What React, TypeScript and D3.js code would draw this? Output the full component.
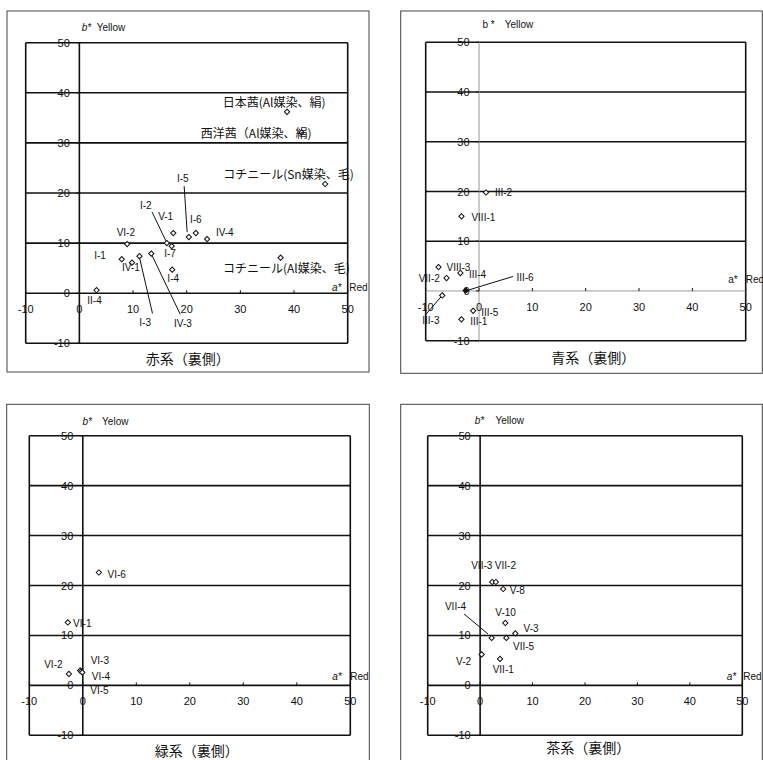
import * as d3 from "d3";

const tickValues = [-10, 0, 10, 20, 30, 40, 50];

// 赤系（裏側）
const redNames = ["I-1", "IV-1", "VI-2", "I-3", "IV-3", "I-2", "I-7", "V-1", "I-4", "I-5", "I-6", "IV-4", "II-4",
  "日本茜(Al媒染、絹)", "西洋茜（Al媒染、絹)", "コチニール(Sn媒染、毛)", "コチニール(Al媒染、毛)"];
const redA = [7.9, 9.8, 8.9, 11.2, 13.4, 16.3, 17.2, 17.5, 17.3, 20.4, 21.7, 23.8, 3.2, 38.7, 41.4, 45.8, 37.5];
const redB = [6.8, 6.1, 9.8, 7.4, 7.9, 10.0, 9.4, 12.0, 4.7, 11.2, 12.0, 10.8, 0.6, 36.2, 32.1, 21.8, 7.1];

// 青系（裏側）
const blueNames = ["III-2", "VIII-1", "VIII-3", "VII-2", "III-4", "III-6", "III-3", "III-5", "III-1"];
const blueA = [1.3, -3.3, -7.6, -6.1, -3.5, -2.5, -6.9, -1.1, -3.3];
const blueB = [19.8, 15.0, 4.8, 2.6, 3.6, 0.1, -0.9, -4.0, -5.7];

// 緑系（裏側）
const greenNames = ["VI-6", "VI-1", "VI-2", "VI-3", "VI-4", "VI-5"];
const greenA = [3.0, -2.8, -2.6, -0.5, -0.3, -0.1];
const greenB = [22.6, 12.6, 2.3, 3.0, 2.8, 2.6];

// 茶系（裏側）
const brownNames = ["VII-3", "VII-2", "V-8", "V-10", "V-3", "VII-4", "VII-5", "V-2", "VII-1"];
const brownA = [2.3, 3.0, 4.4, 4.8, 6.7, 2.2, 5.0, 0.3, 3.8];
const brownB = [20.7, 20.7, 19.3, 12.5, 10.4, 9.5, 9.5, 6.2, 5.3];

// label placement: [anchor, dx, dy, leader?]
type Place = [string, number, number, number[]?];

const redPlace: Record<string, Place> = {
  "I-1": ["middle", -21.7, -3.3],
  "IV-1": ["middle", -1, 5],
  "VI-2": ["middle", -1.3, -11.4],
  "I-3": ["middle", 5.7, 66, [0, 1.3, 13, 57.3]],
  "IV-3": ["middle", 31.7, 69.7, [0.7, 1.7, 29, 60.7]],
  "I-2": ["middle", -21, -38, [-14.7, -31, -1, -2.3]],
  "I-7": ["middle", -1.7, 7.3],
  "V-1": ["middle", -7.6, -16.3],
  "I-4": ["middle", 1, 8.6],
  "I-5": ["middle", -6, -59, [-4.7, -51, -1.7, -5]],
  "I-6": ["middle", 0, -14],
  "IV-4": ["middle", 17.7, -6.7],
  "II-4": ["middle", -2, 10],
  "日本茜(Al媒染、絹)": ["start", -64.3, -10],
  "西洋茜（Al媒染、絹)": ["start", -100.7, 0],
  "コチニール(Sn媒染、毛)": ["start", -102, -10],
  "コチニール(Al媒染、毛)": ["start", -57.7, 9.4],
};

const bluePlace: Record<string, Place> = {
  "III-2": ["start", 9, 0],
  "VIII-1": ["start", 10, 1],
  "VIII-3": ["start", 8, 0],
  "VII-2": ["end", -6.7, 0],
  "III-4": ["start", 8.6, 1.3],
  "III-6": ["start", 50.7, -13.3, [1.3, 0, 47.3, -14]],
  "III-3": ["start", -20, 25.4, [-17, 19.7, 0, 0]],
  "III-5": ["start", 8, 1.6],
  "III-1": ["start", 8.7, 1.7],
};

const greenPlace: Record<string, Place> = {
  "VI-6": ["start", 8.7, 1.7],
  "VI-1": ["start", 5.3, 1],
  "VI-2": ["start", -24.7, -9],
  "VI-3": ["start", 10.5, -9.5],
  "VI-4": ["start", 10.6, 4.7],
  "VI-5": ["start", 8, 18.5],
};

const brownPlace: Record<string, Place> = {
  "VII-3": ["start", -21, -16.6],
  "VII-2": ["start", -1, -16.6],
  "V-8": ["start", 6.6, 1.7],
  "V-10": ["start", -10, -10.6],
  "V-3": ["start", 8.3, -5.4],
  "VII-4": ["start", -46.7, -31.6, [-27.7, -24, -3.7, -4]],
  "VII-5": ["start", 6.7, 8.4],
  "V-2": ["start", -25.6, 7],
  "VII-1": ["start", -7.4, 10.3],
};

const panels = [
  {
    title: "赤系（裏側）", names: redNames, a: redA, b: redB, place: redPlace, filled: [] as string[],
    frame: [7, 11, 362, 361], plot: [25.7, 347.7, 42.7, 343.3], titleXY: [187.7, 358.3],
    bY: 27.7, bDx: 2.4, yDx: 17.4, bText: "b*", yellow: "Yellow", italic: true,
    aDx: -15.7, aDy: -6, redDx: 1.6, axisColor: "#111", axisW: 1.6,
  },
  {
    title: "青系（裏側）", names: blueNames, a: blueA, b: blueB, place: bluePlace, filled: ["III-6"],
    frame: [400.7, 11, 361.6, 362.3], plot: [425.7, 745.7, 42.3, 340.7], titleXY: [593.3, 356.7],
    bY: 24.3, bDx: 3.4, yDx: 25.7, bText: "b *", yellow: "Yellow", italic: false,
    aDx: -17.4, aDy: -11.4, redDx: 0, axisColor: "#999", axisW: 1,
  },
  {
    title: "緑系（裏側）", names: greenNames, a: greenA, b: greenB, place: greenPlace, filled: [] as string[],
    frame: [6.7, 404.3, 362.6, 400], plot: [29.3, 350.3, 435.7, 735.3], titleXY: [196.7, 750],
    bY: 421.7, bDx: -0.3, yDx: 19.3, bText: "b*", yellow: "Yelow", italic: true,
    aDx: -18, aDy: -9.3, redDx: 0, axisColor: "#111", axisW: 1.6,
  },
  {
    title: "茶系（裏側）", names: brownNames, a: brownA, b: brownB, place: brownPlace, filled: [] as string[],
    frame: [400.7, 404.3, 361.6, 400], plot: [427.7, 742.3, 435.7, 735.3], titleXY: [588.3, 746.7],
    bY: 420, bDx: -5.4, yDx: 15.3, bText: "b*", yellow: "Yellow", italic: true,
    aDx: -15.6, aDy: -9, redDx: 1, axisColor: "#111", axisW: 1.6,
  },
];

const latin = "'Liberation Sans', Arial, sans-serif";
const cjk = "'Noto Sans CJK JP', 'Noto Sans', sans-serif";
const marker = d3.symbol(d3.symbolSquare, 14)();

function Panel({ p }: { p: (typeof panels)[number] }) {
  const [l, r, t, btm] = p.plot;
  const x = d3.scaleLinear().domain([-10, 50]).range([l, r]);
  const y = d3.scaleLinear().domain([-10, 50]).range([btm, t]);
  const x0 = x(0);
  const y0 = y(0);

  return (
    <g>
      <rect x={p.frame[0]} y={p.frame[1]} width={p.frame[2]} height={p.frame[3]} fill="none" stroke="#444" strokeWidth={1} />
      {/* horizontal grid */}
      {tickValues.filter((v) => v !== 0).map((v) => (
        <line key={`g${v}`} x1={l} x2={r} y1={y(v)} y2={y(v)} stroke="#111" strokeWidth={1.6} />
      ))}
      <line x1={l} x2={l} y1={t} y2={btm} stroke="#111" strokeWidth={1.6} />
      <line x1={r} x2={r} y1={t} y2={btm} stroke="#111" strokeWidth={1.6} />
      {/* axes through origin */}
      <line x1={l} x2={r} y1={y0} y2={y0} stroke={p.axisColor} strokeWidth={p.axisW} />
      <line x1={x0} x2={x0} y1={t} y2={btm} stroke={p.axisColor} strokeWidth={p.axisW} />
      {tickValues.map((v) => (
        <line key={`t${v}`} x1={x(v)} x2={x(v)} y1={y0 - 3} y2={y0} stroke="#111" strokeWidth={1} />
      ))}
      {tickValues.map((v) => (
        <line key={`yt${v}`} x1={x0 - 3} x2={x0} y1={y(v)} y2={y(v)} stroke="#111" strokeWidth={1} />
      ))}
      {/* tick labels */}
      <g fontFamily={latin} fontSize={11} fill="#111">
        {tickValues.map((v) => (
          <text key={`yl${v}`} x={x0 - 9.5} y={y(v)} textAnchor="end" dominantBaseline="central">{v}</text>
        ))}
        {tickValues.map((v) => (
          <text key={`xl${v}`} x={x(v)} y={y0 + 16} textAnchor="middle" dominantBaseline="central">{v}</text>
        ))}
      </g>
      {/* axis titles */}
      <g fontFamily={latin} fontSize={10} fill="#111">
        <text x={x0 + p.bDx} y={p.bY} dominantBaseline="central" fontStyle={p.italic ? "italic" : "normal"}>{p.bText}</text>
        <text x={x0 + p.yDx} y={p.bY} dominantBaseline="central">{p.yellow}</text>
        <text x={r + p.aDx} y={y0 + p.aDy} dominantBaseline="central" fontStyle={p.italic ? "italic" : "normal"}>a*</text>
        <text x={r + p.redDx} y={y0 + p.aDy} dominantBaseline="central">Red</text>
      </g>
      {/* leaders */}
      {p.names.map((n, i) => {
        const pl = p.place[n];
        if (!pl || !pl[3]) return null;
        const px = x(p.a[i]);
        const py = y(p.b[i]);
        const ld = pl[3];
        return <line key={`ld${n}`} x1={px + ld[0]} y1={py + ld[1]} x2={px + ld[2]} y2={py + ld[3]} stroke="#111" strokeWidth={1} />;
      })}
      {/* points */}
      {p.names.map((n, i) => (
        <path key={`m${n}`} d={marker ?? ""} transform={`translate(${x(p.a[i])},${y(p.b[i])}) rotate(45)`}
          fill={p.filled.includes(n) ? "#111" : "#fff"} stroke="#111" strokeWidth={1} />
      ))}
      {/* labels */}
      {p.names.map((n, i) => {
        const pl = p.place[n];
        const isCjk = /[^\x00-\x7F]/.test(n);
        return (
          <text key={`l${n}`} x={x(p.a[i]) + pl[1]} y={y(p.b[i]) + pl[2]} textAnchor={pl[0]}
            dominantBaseline="central" fontFamily={isCjk ? cjk : latin} fontSize={isCjk ? 12 : 10} fill="#111">
            {n}
          </text>
        );
      })}
      <text x={p.titleXY[0]} y={p.titleXY[1]} textAnchor="middle" dominantBaseline="central"
        fontFamily={cjk} fontSize={14} fill="#111">{p.title}</text>
    </g>
  );
}

export default function App() {
  return (
    <svg width={763} height={760} style={{ position: "absolute", left: 0, top: 0, background: "#fff" }}>
      {panels.map((p) => (
        <Panel key={p.title} p={p} />
      ))}
    </svg>
  );
}
